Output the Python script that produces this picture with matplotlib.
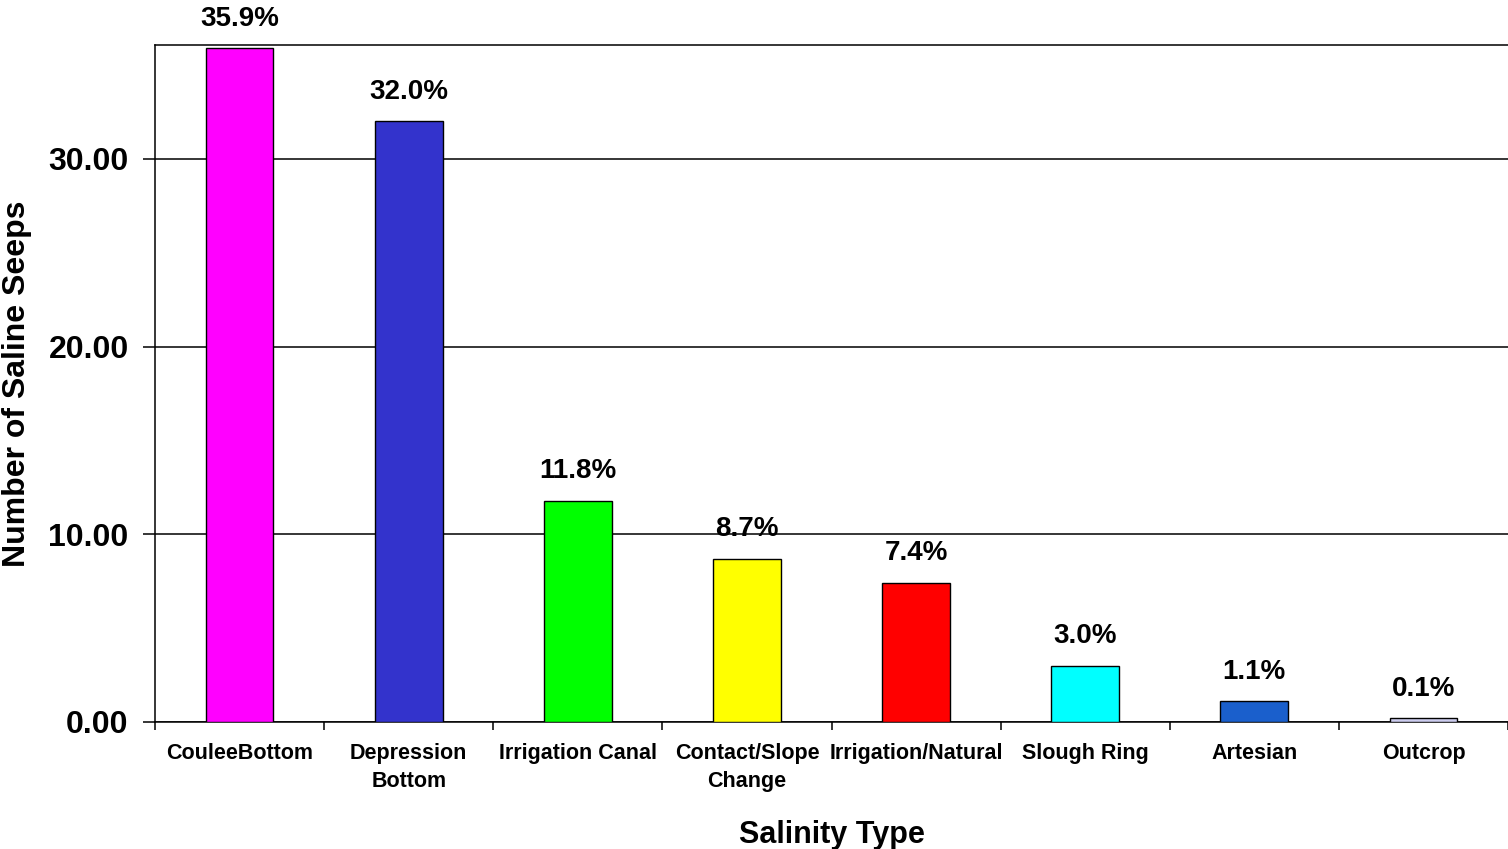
from matplotlib import pyplot as plt

categories = ['CouleeBottom', 'Depression\nBottom', 'Irrigation Canal',
              'Contact/Slope\nChange', 'Irrigation/Natural', 'Slough Ring',
              'Artesian', 'Outcrop']
heights = [35.9, 32.0, 11.8, 8.7, 7.4, 3.0, 1.1, 0.2]
pct_labels = ['35.9%', '32.0%', '11.8%', '8.7%', '7.4%', '3.0%', '1.1%', '0.1%']
colors = ['#ff00ff', '#3333cc', '#00ff00', '#ffff00', '#ff0000',
          '#00ffff', '#1a5fcc', '#ccccee']
yticks = [0, 10, 20, 30]

plt.rcParams['font.family'] = ['Liberation Sans', 'DejaVu Sans']
plt.rcParams['font.weight'] = 'bold'

fig = plt.figure(figsize=(15.08, 8.49), dpi=100)
ax = fig.add_axes([0.1028, 0.1496, 0.8972, 0.7974])

x = range(len(categories))
ax.bar(x, heights, width=0.4, color=colors, edgecolor='black', lw=1.0, zorder=3)

for i, lab in enumerate(pct_labels):
    ax.annotate(lab, (i, heights[i]), xytext=(0, 12), textcoords='offset points',
                ha='center', va='bottom', fontsize=20, fontweight='bold')

ax.set_xlim(-0.5, len(categories) - 0.5)
ax.set_ylim(0, 36.07)

ax.set_yticks(yticks)
ax.set_yticklabels(['%.2f' % v for v in yticks], fontsize=23, fontweight='bold')
ax.yaxis.grid(True, color='black', lw=1.1, zorder=0)
ax.tick_params(axis='y', length=9, width=1.1, pad=10)

ax.set_xticks(list(x))
ax.set_xticklabels(categories, fontsize=15.5, fontweight='bold', linespacing=1.45)
ax.set_xticks([i + 0.5 for i in range(-1, len(categories))], minor=True)
ax.tick_params(axis='x', which='major', length=0, pad=15)
ax.tick_params(axis='x', which='minor', length=6, width=1.1)

for side in ['left', 'bottom', 'top']:
    ax.spines[side].set_linewidth(1.1)
ax.spines['right'].set_visible(False)

ax.set_ylabel('Number of Saline Seeps', fontsize=23, fontweight='bold', labelpad=12)
ax.set_xlabel('Salinity Type', fontsize=22, fontweight='bold', labelpad=20)

fig.savefig('out.png', dpi=100)
